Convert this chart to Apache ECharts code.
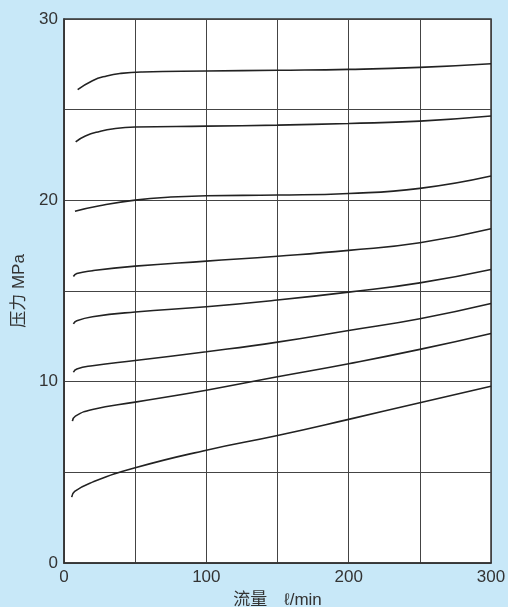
<!DOCTYPE html>
<html>
<head>
<meta charset="utf-8">
<script src="https://cdn.jsdelivr.net/npm/echarts@6/dist/echarts.min.js"></script>
<style>
html,body{margin:0;padding:0;background:#c8e8f8;}
#chart{width:508px;height:607px;}
</style>
</head>
<body>
<div id="chart"></div>
<script>
// Flow (l/min) vs pressure (MPa) curves
const curve1 = [[9.6,26.1],[20,26.6],[30,26.86],[40,27.0],[55,27.08],[100,27.13],[150,27.17],[200,27.22],[250,27.33],[300,27.53]];
const curve2 = [[8.2,23.23],[15,23.55],[25,23.8],[35,23.95],[50,24.04],[100,24.09],[150,24.15],[200,24.24],[250,24.37],[300,24.65]];
const curve3 = [[7.7,19.4],[25,19.7],[50,20.01],[75,20.18],[100,20.25],[150,20.29],[200,20.38],[250,20.66],[300,21.34]];
const curve4 = [[6.6,15.8],[9,15.96],[20,16.12],[50,16.37],[100,16.65],[150,16.92],[200,17.24],[250,17.66],[300,18.43]];
const curve5 = [[6.6,13.19],[9,13.36],[20,13.58],[50,13.84],[100,14.13],[150,14.5],[200,14.94],[250,15.45],[300,16.19]];
const curve6 = [[6.6,10.52],[9,10.7],[20,10.88],[50,11.17],[100,11.65],[150,12.18],[200,12.82],[250,13.47],[300,14.31]];
const curve7 = [[5.9,7.82],[8,8.1],[20,8.47],[50,8.87],[100,9.53],[150,10.27],[200,10.99],[250,11.78],[300,12.66]];
const curve8 = [[5.4,3.63],[7.5,3.95],[20,4.46],[50,5.25],[100,6.22],[150,7.03],[200,7.92],[250,8.84],[300,9.75]];
const curves = [curve1, curve2, curve3, curve4, curve5, curve6, curve7, curve8];

const xTickLabels = [0, 100, 200, 300];
const yTickLabels = [0, 10, 20, 30];
const xName = '流量　ℓ/min';
const yName = '压力 MPa';

const chart = echarts.init(document.getElementById('chart'), null, {renderer: 'canvas'});
const font = '"Liberation Sans", Arial, "Noto Sans CJK SC", sans-serif';
chart.setOption({
  backgroundColor: '#c8e8f8',
  animation: false,
  grid: {left: 64, right: 17, top: 19, bottom: 44, containLabel: false, outerBoundsMode: 'none',
    show: true, backgroundColor: '#ffffff', borderColor: '#333', borderWidth: 1.5},
  xAxis: {
    type: 'value', min: 0, max: 300, interval: 50,
    name: xName, nameLocation: 'middle', nameGap: 29,
    nameTextStyle: {fontFamily: font, fontSize: 17, color: '#333'},
    axisLine: {show: true, lineStyle: {color: '#333', width: 1.5}},
    axisTick: {show: false},
    axisLabel: {fontFamily: font, fontSize: 17, color: '#333', margin: 6,
      formatter: v => xTickLabels.includes(v) ? String(v) : ''},
    splitLine: {show: true, lineStyle: {color: '#444', width: 1}}
  },
  yAxis: {
    type: 'value', min: 0, max: 30, interval: 5,
    name: yName, nameLocation: 'middle', nameGap: 36,
    nameTextStyle: {fontFamily: font, fontSize: 17, color: '#333'},
    axisLine: {show: true, lineStyle: {color: '#333', width: 1.5}},
    axisTick: {show: false},
    axisLabel: {fontFamily: font, fontSize: 17, color: '#333', margin: 6,
      formatter: v => yTickLabels.includes(v) ? String(v) : ''},
    splitLine: {show: true, lineStyle: {color: '#444', width: 1}}
  },
  series: curves.map(c => ({
    type: 'line', data: c, showSymbol: false, smooth: 0.5,
    lineStyle: {color: '#222', width: 1.6}
  }))
});
</script>
</body>
</html>
